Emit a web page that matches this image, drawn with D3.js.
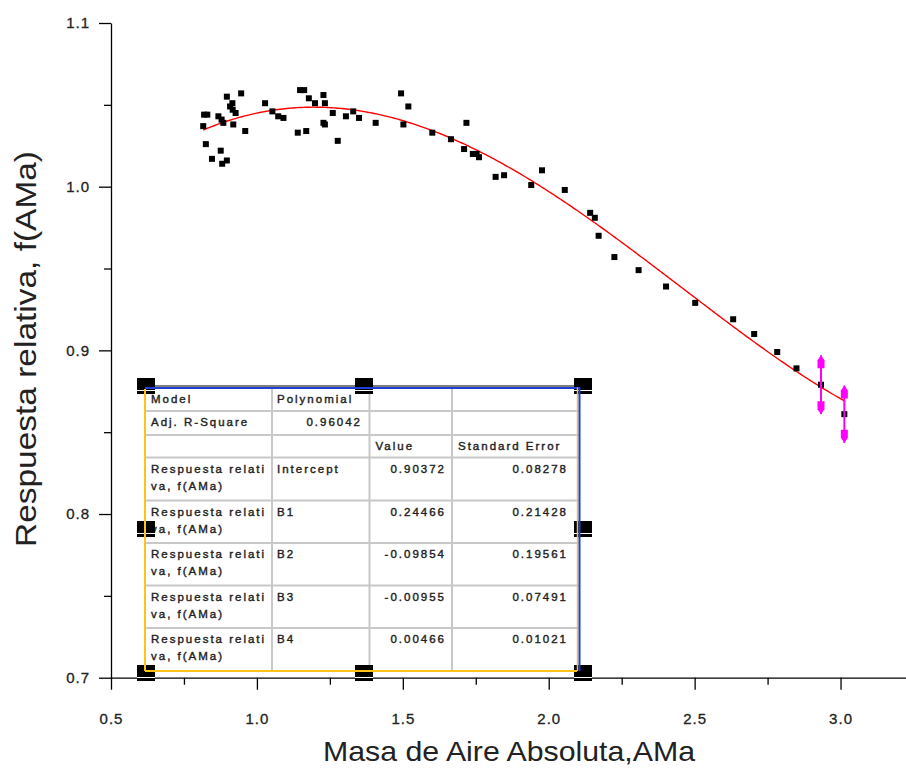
<!DOCTYPE html>
<html>
<head>
<meta charset="utf-8">
<script src="https://cdn.jsdelivr.net/npm/d3@7"></script>
<style>
  html, body { margin: 0; padding: 0; background: #fff; }
  svg { display: block; font-family: "Liberation Sans", Arial, sans-serif; }
</style>
</head>
<body>
<script>
// Measured relative response vs absolute air mass
const airMass = [0.819,0.830,0.816,0.825,0.846,0.876,0.881,0.897,0.897,0.916,0.908,0.917,0.927,0.946,0.868,0.879,0.885,0.919,0.960,
  1.028,1.053,1.073,1.091,1.140,1.169,1.148,1.162,1.178,1.199,1.228,1.233,1.228,1.233,1.260,1.277,1.305,1.330,1.350,1.407,
  1.494,1.502,1.519,1.601,1.665,1.718,1.710,1.740,1.753,1.761,1.818,1.847,1.940,1.977,2.055,2.142,2.158,2.171,2.225,2.308,
  2.402,2.502,2.632,2.704,2.783,2.849,2.933,3.013];
const response = [1.044,1.044,1.037,1.026,1.017,1.022,1.014,1.016,1.055,1.051,1.049,1.047,1.045,1.057,1.043,1.041,1.039,1.038,1.034,
  1.051,1.046,1.043,1.042,1.033,1.034,1.059,1.059,1.054,1.051,1.056,1.051,1.039,1.038,1.045,1.028,1.043,1.046,1.042,1.039,
  1.057,1.038,1.049,1.033,1.029,1.039,1.023,1.020,1.020,1.018,1.006,1.007,1.001,1.010,0.998,0.984,0.981,0.970,0.957,0.949,
  0.939,0.929,0.919,0.910,0.899,0.889,0.879,0.861];

// Points carrying error bars
const errAirMass = [2.933, 3.013];
const errResponse = [0.879, 0.861];
const errSize = [0.018, 0.0175];

// Polynomial fit (order 4) results
const coefNames = ["Intercept", "B1", "B2", "B3", "B4"];
const coefValues = [0.90372, 0.24466, -0.09854, -0.00955, 0.00466];
const coefErrors = [0.08278, 0.21428, 0.19561, 0.07491, 0.01021];
const adjRSquare = 0.96042;
const modelName = "Polynomial";
const depName = ["Respuesta relati", "va, f(AMa)"];

// Axis ticks
const xMajor = [0.5, 1.0, 1.5, 2.0, 2.5, 3.0];
const xMinor = [0.75, 1.25, 1.75, 2.25, 2.75, 3.25];
const yMajor = [0.7, 0.8, 0.9, 1.0, 1.1];
const yMinor = [0.75, 0.85, 0.95, 1.05];

const W = 906, H = 770;
const svg = d3.select("body").append("svg").attr("width", W).attr("height", H);
svg.append("rect").attr("width", W).attr("height", H).attr("fill", "#fff");

const x = d3.scaleLinear().domain([0.5, 3.25]).range([111, 913.5]);
const y = d3.scaleLinear().domain([0.7, 1.1]).range([677.7, 23]);

const fmt1 = d3.format(".1f");
const locale = d3.formatLocale({decimal: ".", thousands: ",", grouping: [3], currency: ["", ""], minus: "-"});
const fmt5 = locale.format(".5f");

// ---- axes ----
const xAxisG = svg.append("g").attr("transform", `translate(0,${y(0.7)})`);
xAxisG.call(d3.axisBottom(x).tickValues(xMajor).tickSize(12).tickSizeOuter(0).tickPadding(24).tickFormat(fmt1));
const xMinorG = svg.append("g").attr("transform", `translate(0,${y(0.7)})`);
xMinorG.call(d3.axisBottom(x).tickValues(xMinor).tickSize(7).tickSizeOuter(0).tickFormat(""));
xMinorG.select(".domain").remove();

const yAxisG = svg.append("g").attr("transform", `translate(${x(0.5)},0)`);
yAxisG.call(d3.axisLeft(y).tickValues(yMajor).tickSize(12).tickSizeOuter(0).tickPadding(9).tickFormat(fmt1));
const yMinorG = svg.append("g").attr("transform", `translate(${x(0.5)},0)`);
yMinorG.call(d3.axisLeft(y).tickValues(yMinor).tickSize(7).tickSizeOuter(0).tickFormat(""));
yMinorG.select(".domain").remove();

svg.selectAll(".domain, .tick line").attr("stroke", "#000").attr("stroke-width", 1.3);
svg.selectAll(".tick text")
  .attr("fill", "#222")
  .attr("stroke", "#222").attr("stroke-width", 0.3)
  .style("font-size", "15px")
  .style("letter-spacing", "1px")
  .style("font-family", "'Liberation Sans', Arial, sans-serif");

// Axis titles
svg.append("text")
  .attr("x", 509).attr("y", 761)
  .attr("text-anchor", "middle")
  .attr("fill", "#222")
  .attr("textLength", 372).attr("lengthAdjust", "spacingAndGlyphs")
  .style("font-size", "28px")
  .text("Masa de Aire Absoluta,AMa");

svg.append("text")
  .attr("transform", "translate(36,349) rotate(-90)")
  .attr("text-anchor", "middle")
  .attr("fill", "#222")
  .attr("textLength", 396).attr("lengthAdjust", "spacingAndGlyphs")
  .style("font-size", "29px")
  .text("Respuesta relativa, f(AMa)");

// ---- fitted curve ----
const poly = t => coefValues.reduce((s, c, i) => s + c * Math.pow(t, i), 0);
const [xMin, xMax] = d3.extent(airMass);
const curvePts = d3.range(0, 301).map(i => {
  const t = xMin + (xMax - xMin) * i / 300;
  return [t, poly(t)];
});
svg.append("path")
  .datum(curvePts)
  .attr("fill", "none")
  .attr("stroke", "#ff0000")
  .attr("stroke-width", 1.4)
  .attr("d", d3.line().x(d => x(d[0])).y(d => y(d[1])));

// ---- data points ----
const pts = airMass.map((a, i) => ({a, r: response[i]}));
svg.append("g").selectAll("rect").data(pts).join("rect")
  .attr("x", d => x(d.a) - 3).attr("y", d => y(d.r) - 3)
  .attr("width", 6).attr("height", 6)
  .attr("fill", "#000");

// ---- error bars with arrow caps ----
const errG = svg.append("g").attr("fill", "#ff00ff").attr("stroke", "#ff00ff");
errAirMass.forEach((a, i) => {
  const cx = x(a);
  const top = y(errResponse[i] + errSize[i]);
  const bot = y(errResponse[i] - errSize[i]);
  errG.append("line").attr("x1", cx).attr("x2", cx).attr("y1", top).attr("y2", bot).attr("stroke-width", 2);
  errG.append("path").attr("stroke", "none")
    .attr("d", `M${cx},${top} L${cx + 3.5},${top + 5} L${cx + 3.5},${top + 13} L${cx - 3.5},${top + 13} L${cx - 3.5},${top + 5} Z`);
  errG.append("path").attr("stroke", "none")
    .attr("d", `M${cx},${bot} L${cx + 3.5},${bot - 5} L${cx + 3.5},${bot - 13} L${cx - 3.5},${bot - 13} L${cx - 3.5},${bot - 5} Z`);
});

// ---- fit results table ----
const colX = [145, 272, 369.5, 452, 579];
const rowY = [387.5, 411, 435, 457.5, 500.5, 543, 585.5, 628, 671];
const tbl = svg.append("g");
tbl.append("rect")
  .attr("x", colX[0]).attr("y", rowY[0])
  .attr("width", colX[4] - colX[0]).attr("height", rowY[8] - rowY[0])
  .attr("fill", "#fff");

// inner grid
colX.slice(1, 4).forEach(cx => tbl.append("line")
  .attr("x1", cx).attr("x2", cx).attr("y1", rowY[0]).attr("y2", rowY[8])
  .attr("stroke", "#c8c8c8").attr("stroke-width", 2));
rowY.slice(1, 8).forEach(ry => tbl.append("line")
  .attr("x1", colX[0]).attr("x2", colX[4]).attr("y1", ry).attr("y2", ry)
  .attr("stroke", "#c8c8c8").attr("stroke-width", 2));

// cell text
const cellRows = [
  [["Model"], [modelName, "start"], null, null],
  [["Adj. R-Square"], [fmt5(adjRSquare), "end"], null, null],
  [null, null, ["Value", "start"], ["Standard Error", "start"]]
];
coefNames.forEach((n, i) => cellRows.push([depName, [n, "start"], [fmt5(coefValues[i]), "end"], [fmt5(coefErrors[i]), "end"]]));

const padL = [6, 5, 6, 6];
const rightEnd = [0, 362, 446, 568];
cellRows.forEach((row, ri) => {
  row.forEach((cell, ci) => {
    if (!cell) return;
    const base = rowY[ri] + 15;
    if (ci === 0) {
      cell.forEach((line, li) => tbl.append("text")
        .attr("x", colX[0] + padL[0]).attr("y", base + li * 17)
        .attr("class", "cell").text(line));
    } else {
      const anchor = cell[1];
      tbl.append("text")
        .attr("x", anchor === "end" ? rightEnd[ci] : colX[ci] + padL[ci])
        .attr("y", base)
        .attr("text-anchor", anchor)
        .attr("class", "cell").text(cell[0]);
    }
  });
});
tbl.selectAll("text.cell")
  .attr("fill", "#1e1e1e")
  .attr("stroke", "#1e1e1e").attr("stroke-width", 0.4)
  .style("font-size", "11.5px")
  .style("letter-spacing", "2px");

// selection handles
const hx = [146, 364, 583];
const hy = [386, 529, 673];
const handles = [];
hx.forEach((px, i) => hy.forEach((py, j) => { if (!(i === 1 && j === 1)) handles.push([px, py]); }));
handles.forEach(([px, py]) => {
  tbl.append("rect").attr("x", px - 9).attr("y", py - 8).attr("width", 18).attr("height", 16).attr("fill", "#000");
  tbl.append("line").attr("x1", px - 9).attr("x2", px + 9).attr("y1", py + 4.5).attr("y2", py + 4.5)
    .attr("stroke", "#fff").attr("stroke-width", 1);
});

// frame: blue top/right, amber left/bottom
tbl.append("line").attr("x1", colX[0]).attr("x2", colX[4] + 1).attr("y1", rowY[0] - 1.5).attr("y2", rowY[0] - 1.5)
  .attr("stroke", "#000").attr("stroke-width", 1);
tbl.append("line").attr("x1", colX[0]).attr("x2", colX[4] + 1).attr("y1", rowY[0] + 0.5).attr("y2", rowY[0] + 0.5)
  .attr("stroke", "#1f3fd8").attr("stroke-width", 2);
tbl.append("line").attr("x1", colX[4] - 1.5).attr("x2", colX[4] - 1.5).attr("y1", rowY[0]).attr("y2", rowY[8])
  .attr("stroke", "#ffc21a").attr("stroke-width", 1.5);
tbl.append("line").attr("x1", colX[4] + 0.5).attr("x2", colX[4] + 0.5).attr("y1", rowY[0]).attr("y2", rowY[8])
  .attr("stroke", "#1f3fd8").attr("stroke-width", 2);
tbl.append("line").attr("x1", colX[0]).attr("x2", colX[0]).attr("y1", rowY[0] + 1.5).attr("y2", rowY[8])
  .attr("stroke", "#ffc21a").attr("stroke-width", 2);
tbl.append("line").attr("x1", colX[0]).attr("x2", colX[4] - 2).attr("y1", rowY[8]).attr("y2", rowY[8])
  .attr("stroke", "#ffc21a").attr("stroke-width", 2);
</script>
</body>
</html>
